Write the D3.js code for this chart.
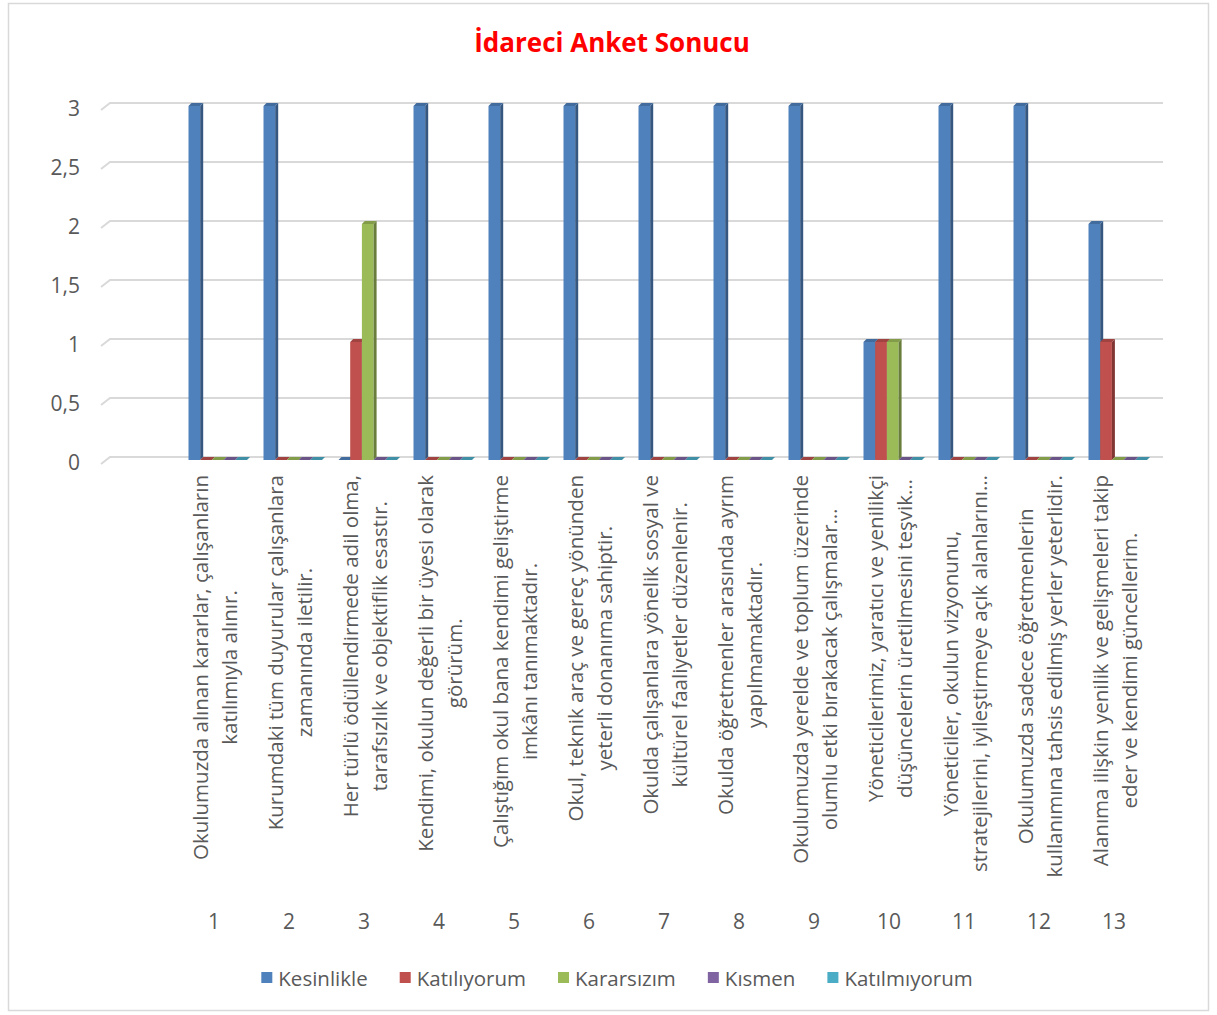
<!DOCTYPE html>
<html>
<head>
<meta charset="utf-8">
<script src="https://cdn.jsdelivr.net/npm/d3@7"></script>
<style>
  body { margin: 0; background: #fff; }
  svg { display: block; }
  text { font-family: "Open Sans", "Noto Sans", sans-serif; fill: #595959; }
</style>
</head>
<body>
<svg id="chart" width="1217" height="1015"></svg>
<script>
// chart values
var categories = ["1", "2", "3", "4", "5", "6", "7", "8", "9", "10", "11", "12", "13"];
var seriesNames = ["Kesinlikle", "Katılıyorum", "Kararsızım", "Kısmen", "Katılmıyorum"];
var kesinlikle   = [3, 3, 0, 3, 3, 3, 3, 3, 3, 1, 3, 3, 2];
var katiliyorum  = [0, 0, 1, 0, 0, 0, 0, 0, 0, 1, 0, 0, 1];
var kararsizim   = [0, 0, 2, 0, 0, 0, 0, 0, 0, 1, 0, 0, 0];
var kismen       = [0, 0, 0, 0, 0, 0, 0, 0, 0, 0, 0, 0, 0];
var katilmiyorum = [0, 0, 0, 0, 0, 0, 0, 0, 0, 0, 0, 0, 0];
var yTicks = [0, 0.5, 1, 1.5, 2, 2.5, 3];
var questions = [
    ["Okulumuzda alınan kararlar, çalışanların", "katılımıyla alınır."],
    ["Kurumdaki tüm duyurular çalışanlara", "zamanında iletilir."],
    ["Her türlü ödüllendirmede adil olma,", "tarafsızlık ve objektiflik esastır."],
    ["Kendimi, okulun değerli bir üyesi olarak", "görürüm."],
    ["Çalıştığım okul bana kendimi geliştirme", "imkânı tanımaktadır."],
    ["Okul, teknik araç ve gereç yönünden", "yeterli donanıma sahiptir."],
    ["Okulda çalışanlara yönelik sosyal ve", "kültürel faaliyetler düzenlenir."],
    ["Okulda öğretmenler arasında ayrım", "yapılmamaktadır."],
    ["Okulumuzda yerelde ve toplum üzerinde", "olumlu etki bırakacak çalışmalar…"],
    ["Yöneticilerimiz, yaratıcı ve yenilikçi", "düşüncelerin üretilmesini teşvik…"],
    ["Yöneticiler, okulun vizyonunu,", "stratejilerini, iyileştirmeye açık alanlarını…"],
    ["Okulumuzda sadece öğretmenlerin", "kullanımına tahsis edilmiş yerler yeterlidir."],
    ["Alanıma ilişkin yenilik ve gelişmeleri takip", "eder ve kendimi güncellerim."]
];
var seriesValues = [kesinlikle, katiliyorum, kararsizim, kismen, katilmiyorum];
var colors = ["#4f81bd", "#c0504d", "#9bbb59", "#8064a2", "#4bacc6"];

var svg = d3.select("#chart");
var depth = 3;

// outer chart border
svg.append("rect")
    .attr("x", 8.5).attr("y", 3.5)
    .attr("width", 1200).attr("height", 1007)
    .attr("fill", "#fff")
    .attr("stroke", "#d9d9d9")
    .attr("stroke-width", 1.5);

svg.append("text")
    .attr("x", 612).attr("y", 52)
    .attr("text-anchor", "middle")
    .style("fill", "#ff0000")
    .style("font-weight", "bold")
    .style("font-size", "26px")
    .text("İdareci Anket Sonucu");

var y = d3.scaleLinear().domain([0, 3]).range([457, 103]);
var xCat = d3.scaleBand().domain(categories).range([176.5, 1151.5]);
var xSer = d3.scaleBand().domain(seriesNames).range([0, 58.5]);

// gridlines with the short wall edge on the left
var grid = svg.append("g");
grid.selectAll("path")
    .data(yTicks)
    .enter().append("path")
    .attr("d", function (d) {
        return "M101," + (y(d) + 7) + "L110," + y(d) + "L1163," + y(d);
    })
    .attr("fill", "none")
    .attr("stroke", "#d9d9d9")
    .attr("stroke-width", 2);

grid.selectAll("text")
    .data(yTicks)
    .enter().append("text")
    .attr("x", 80)
    .attr("y", function (d) { return y(d) + 5; })
    .attr("text-anchor", "end")
    .attr("dominant-baseline", "central")
    .style("font-size", "21px")
    .text(function (d) { return String(d).replace(".", ","); });

// 3d columns
var bars = [];
seriesValues.forEach(function (vals, s) {
    vals.forEach(function (v, i) {
        bars.push({cat: categories[i], name: seriesNames[s], value: v, color: colors[s]});
    });
});

var barG = svg.append("g").selectAll("g")
    .data(bars)
    .enter().append("g");

barG.append("path")
    .attr("d", function (d) {
        var x0 = xCat(d.cat) + 12 + xSer(d.name), x1 = x0 + xSer.bandwidth();
        var top = y(d.value) + depth, bottom = y(0) + depth;
        return "M" + x0 + "," + top + "L" + x1 + "," + top +
            "L" + x1 + "," + bottom + "L" + x0 + "," + bottom + "Z";
    })
    .attr("fill", function (d) { return d.color; });

barG.append("path")
    .attr("d", function (d) {
        var x1 = xCat(d.cat) + 12 + xSer(d.name) + xSer.bandwidth();
        var top = y(d.value) + depth, bottom = y(0) + depth;
        return "M" + x1 + "," + top + "L" + (x1 + depth) + "," + (top - depth) +
            "L" + (x1 + depth) + "," + (bottom - depth) + "L" + x1 + "," + bottom + "Z";
    })
    .attr("fill", function (d) { return d3.color(d.color).darker(1.1); });

barG.append("path")
    .attr("d", function (d) {
        var x0 = xCat(d.cat) + 12 + xSer(d.name), x1 = x0 + xSer.bandwidth();
        var top = y(d.value) + depth;
        return "M" + x0 + "," + top + "L" + (x0 + depth) + "," + (top - depth) +
            "L" + (x1 + depth) + "," + (top - depth) + "L" + x1 + "," + top + "Z";
    })
    .attr("fill", function (d) { return d3.color(d.color).darker(0.5); });

// category numbers
svg.append("g").selectAll("text")
    .data(categories)
    .enter().append("text")
    .attr("x", function (d) { return xCat(d) + xCat.bandwidth() / 2; })
    .attr("y", 921)
    .attr("text-anchor", "middle")
    .attr("dominant-baseline", "central")
    .style("font-size", "21px")
    .text(function (d) { return d; });

// rotated question labels, longest line ends at the top, lines centred
var lineGap = 29;
var qG = svg.append("g").selectAll("g")
    .data(questions)
    .enter().append("g")
    .attr("transform", function (d, i) {
        return "translate(" + (xCat(categories[i]) + xCat.bandwidth() / 2) + ",475) rotate(-90)";
    });

qG.each(function (lines) {
    var g = d3.select(this);
    var texts = g.selectAll("text")
        .data(lines)
        .enter().append("text")
        .attr("y", function (d, j) { return (j - (lines.length - 1) / 2) * lineGap; })
        .attr("text-anchor", "middle")
        .attr("dominant-baseline", "central")
        .style("font-size", "20.5px")
        .text(function (d) { return d; });
    var maxW = 0;
    texts.each(function () { maxW = Math.max(maxW, this.getComputedTextLength()); });
    texts.attr("x", -maxW / 2);
});

// legend
var legend = svg.append("g");
var items = legend.selectAll("g")
    .data(seriesNames)
    .enter().append("g");
items.append("rect")
    .attr("width", 11).attr("height", 11)
    .attr("y", 972)
    .attr("fill", function (d, i) { return colors[i]; });
items.append("text")
    .attr("x", 17)
    .attr("y", 978)
    .attr("dominant-baseline", "central")
    .style("font-size", "20.5px")
    .text(function (d) { return d; });

var offsets = [], pos = 0;
items.each(function () {
    offsets.push(pos);
    pos += 17 + d3.select(this).select("text").node().getComputedTextLength() + 32;
});
var legendW = pos - 32;
items.attr("transform", function (d, i) {
    return "translate(" + (617 - legendW / 2 + offsets[i]) + ",0)";
});
</script>
</body>
</html>
